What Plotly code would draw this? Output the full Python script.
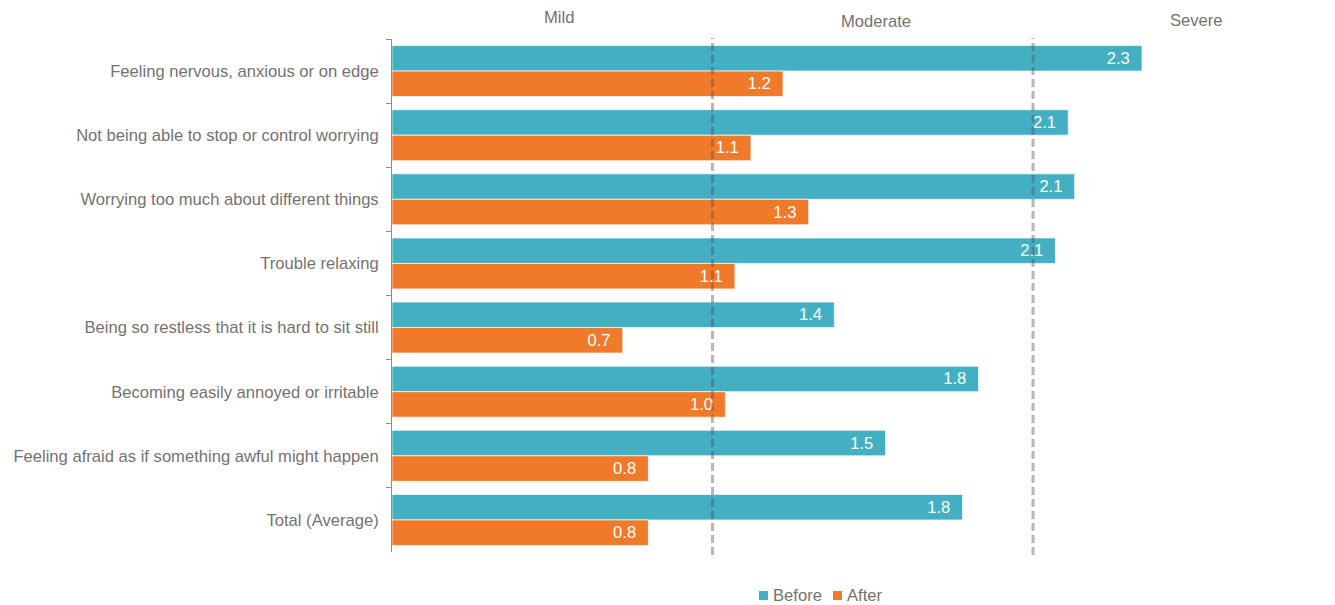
import plotly.graph_objects as go

categories = [
    "Feeling nervous, anxious or on edge",
    "Not being able to stop or control worrying",
    "Worrying too much about different things",
    "Trouble relaxing",
    "Being so restless that it is hard to sit still",
    "Becoming easily annoyed or irritable",
    "Feeling afraid as if something awful might happen",
    "Total (Average)",
]
before = [2.34, 2.11, 2.13, 2.07, 1.38, 1.83, 1.54, 1.78]
after = [1.22, 1.12, 1.30, 1.07, 0.72, 1.04, 0.80, 0.80]
series_names = ["Before", "After"]

severity_labels = ["Mild", "Moderate", "Severe"]
severity_pos = [0.52, 1.51, 2.51]
threshold_lines = [1, 2]

TEAL = "#42AFC3"
ORANGE = "#F07A2A"
GREY_TEXT = "#767171"
FONT = "Liberation Sans, Arial, sans-serif"
FS = 16.6
NB = "\u00a0"

# page is rendered with an 8px body margin; work in figure pixels
OFF = 8
W, H = 1335 - OFF, 605 - OFF
PLOT_L, PLOT_T = 392 - OFF, 39 - OFF
PLOT_B = 552 - OFF
PLOT_W = W - PLOT_L
PLOT_H = PLOT_B - PLOT_T

def px_x(p):
    return (p - OFF - PLOT_L) / PLOT_W
def px_y(p):
    return 1 - (p - OFF - PLOT_T) / PLOT_H

fig = go.Figure()
for name, vals, col in zip(series_names, [before, after], [TEAL, ORANGE]):
    fig.add_trace(go.Bar(
        y=categories, x=vals, name=name, orientation="h",
        marker=dict(color=col, line=dict(color="rgba(255,255,255,0.7)", width=1)),
        texttemplate="%{x:.1f}" + NB * 2, textposition="inside", insidetextanchor="end",
        textfont=dict(color="white", size=FS, family=FONT),
        showlegend=False,
    ))

for t in threshold_lines:
    fig.add_shape(type="line", xref="x", yref="paper", x0=t, x1=t, y0=px_y(555), y1=px_y(38),
                  line=dict(color="rgba(105,70,92,0.42)", width=3, dash="8px,4px"),
                  layer="above")

ann_y = [18, 22, 20]
for lab, pos, yy in zip(severity_labels, severity_pos, ann_y):
    fig.add_annotation(x=pos, y=px_y(yy), xref="x", yref="paper", text=lab, showarrow=False,
                       font=dict(size=FS, color=GREY_TEXT, family=FONT),
                       xanchor="center", yanchor="middle")

# legend (drawn manually to match compact spacing)
leg_sq_x = [759, 833]
leg_txt_x = [771, 845]
leg_y = 595.5
for name, col, sx, tx in zip(series_names, [TEAL, ORANGE], leg_sq_x, leg_txt_x):
    fig.add_shape(type="rect", xref="paper", yref="paper",
                  x0=px_x(sx), x1=px_x(sx + 9), y0=px_y(leg_y + 4.5), y1=px_y(leg_y - 4.5),
                  fillcolor=col, line=dict(width=0))
    fig.add_annotation(x=px_x(tx), y=px_y(leg_y), xref="paper", yref="paper", text=name,
                       showarrow=False, xanchor="left", yanchor="middle",
                       font=dict(size=FS, color=GREY_TEXT, family=FONT))

fig.update_layout(
    width=W, height=H,
    margin=dict(l=PLOT_L, r=0, t=PLOT_T, b=H - PLOT_B, autoexpand=False),
    paper_bgcolor="white", plot_bgcolor="white",
    barmode="group", bargap=0.205, bargroupgap=0,
    font=dict(family=FONT, size=FS, color=GREY_TEXT),
    showlegend=False,
    xaxis=dict(visible=False, range=[0, PLOT_W / 320.5], showgrid=False, zeroline=False,
               automargin=False),
    yaxis=dict(autorange="reversed", showline=True, linecolor="#8c8c8c", linewidth=1,
               ticks="outside", ticklen=5, tickcolor="#8c8c8c", tickson="boundaries",
               showgrid=False, tickfont=dict(size=FS, color=GREY_TEXT, family=FONT),
               ticklabelstandoff=9, automargin=False),
)

fig.write_html("out.html")
